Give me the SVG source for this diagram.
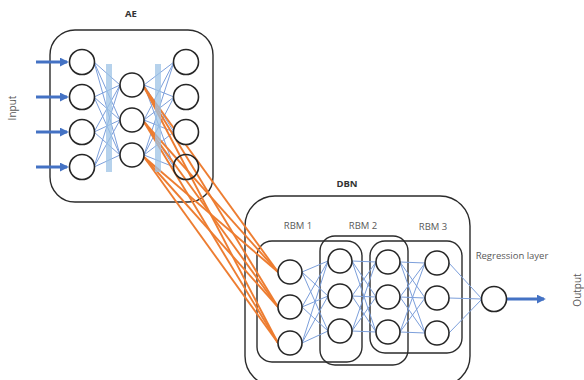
<svg xmlns="http://www.w3.org/2000/svg" width="584" height="380" viewBox="0 0 584 380">
<defs>
<style>
.box{fill:none;stroke:#2b2b2b;stroke-width:1.4}
.n{fill:#fff;stroke:#262626;stroke-width:1.6}
.bl{stroke:#7C9FDB;stroke-width:1;fill:none}
.or{stroke:#ED7D31;stroke-width:1.9;fill:none}
.arr{stroke:#4472C4;stroke-width:3;fill:none}
.bar{fill:#9DC3E6;opacity:0.75}
.t{font-family:"Open Sans","Liberation Sans",sans-serif;font-size:9.5px;fill:#595959;text-anchor:middle}
.h{font-family:"Open Sans","Liberation Sans",sans-serif;font-size:9.5px;font-weight:bold;fill:#333;text-anchor:middle}
</style>
<marker id="ah" viewBox="0 0 10 10" refX="8" refY="5" markerWidth="3" markerHeight="3" orient="auto" markerUnits="strokeWidth">
<path d="M0,0 L10,5 L0,10 z" fill="#4472C4"/>
</marker>
</defs>
<rect width="584" height="380" fill="#fff"/>
<g id="containers">
<rect id="ae-box" class="box" x="50" y="30" width="163" height="172" rx="25"/>
<rect id="dbn-box" class="box" x="245" y="196" width="225" height="190" rx="30"/>
<rect id="rbm1-box" class="box" x="257" y="241" width="105" height="121" rx="15"/>
<rect id="rbm2-box" class="box" x="320" y="236" width="88" height="129" rx="15"/>
<rect id="rbm3-box" class="box" x="370" y="241" width="92" height="112" rx="15"/>
</g>
<g id="connectors">
<g id="ae-lines">
<line class="bl" x1="94" y1="62" x2="120" y2="85"/><line class="bl" x1="94" y1="62" x2="120" y2="120"/><line class="bl" x1="94" y1="62" x2="120" y2="155"/>
<line class="bl" x1="94" y1="97" x2="120" y2="85"/><line class="bl" x1="94" y1="97" x2="120" y2="120"/><line class="bl" x1="94" y1="97" x2="120" y2="155"/>
<line class="bl" x1="94" y1="132" x2="120" y2="85"/><line class="bl" x1="94" y1="132" x2="120" y2="120"/><line class="bl" x1="94" y1="132" x2="120" y2="155"/>
<line class="bl" x1="94" y1="167" x2="120" y2="85"/><line class="bl" x1="94" y1="167" x2="120" y2="120"/><line class="bl" x1="94" y1="167" x2="120" y2="155"/>
<line class="bl" x1="144" y1="85" x2="174" y2="62"/><line class="bl" x1="144" y1="85" x2="174" y2="97"/><line class="bl" x1="144" y1="85" x2="174" y2="132"/><line class="bl" x1="144" y1="85" x2="174" y2="167"/>
<line class="bl" x1="144" y1="120" x2="174" y2="62"/><line class="bl" x1="144" y1="120" x2="174" y2="97"/><line class="bl" x1="144" y1="120" x2="174" y2="132"/><line class="bl" x1="144" y1="120" x2="174" y2="167"/>
<line class="bl" x1="144" y1="155" x2="174" y2="62"/><line class="bl" x1="144" y1="155" x2="174" y2="97"/><line class="bl" x1="144" y1="155" x2="174" y2="132"/><line class="bl" x1="144" y1="155" x2="174" y2="167"/>
</g>
<g id="input-arrows">
<line class="arr" x1="36" y1="62" x2="67" y2="62" marker-end="url(#ah)"/>
<line class="arr" x1="36" y1="97" x2="67" y2="97" marker-end="url(#ah)"/>
<line class="arr" x1="36" y1="132" x2="67" y2="132" marker-end="url(#ah)"/>
<line class="arr" x1="36" y1="167" x2="67" y2="167" marker-end="url(#ah)"/>
</g>
<g id="dbn-lines">
<line class="bl" x1="302" y1="272" x2="328" y2="261"/><line class="bl" x1="302" y1="272" x2="328" y2="296"/><line class="bl" x1="302" y1="272" x2="328" y2="331"/>
<line class="bl" x1="302" y1="307" x2="328" y2="261"/><line class="bl" x1="302" y1="307" x2="328" y2="296"/><line class="bl" x1="302" y1="307" x2="328" y2="331"/>
<line class="bl" x1="302" y1="343" x2="328" y2="261"/><line class="bl" x1="302" y1="343" x2="328" y2="296"/><line class="bl" x1="302" y1="343" x2="328" y2="331"/>
<line class="bl" x1="352" y1="261" x2="376" y2="262"/><line class="bl" x1="352" y1="261" x2="376" y2="297"/><line class="bl" x1="352" y1="261" x2="376" y2="332"/>
<line class="bl" x1="352" y1="296" x2="376" y2="262"/><line class="bl" x1="352" y1="296" x2="376" y2="297"/><line class="bl" x1="352" y1="296" x2="376" y2="332"/>
<line class="bl" x1="352" y1="331" x2="376" y2="262"/><line class="bl" x1="352" y1="331" x2="376" y2="297"/><line class="bl" x1="352" y1="331" x2="376" y2="332"/>
<line class="bl" x1="400" y1="262" x2="425" y2="263"/><line class="bl" x1="400" y1="262" x2="425" y2="298"/><line class="bl" x1="400" y1="262" x2="425" y2="333"/>
<line class="bl" x1="400" y1="297" x2="425" y2="263"/><line class="bl" x1="400" y1="297" x2="425" y2="298"/><line class="bl" x1="400" y1="297" x2="425" y2="333"/>
<line class="bl" x1="400" y1="332" x2="425" y2="263"/><line class="bl" x1="400" y1="332" x2="425" y2="298"/><line class="bl" x1="400" y1="332" x2="425" y2="333"/>
<line class="bl" x1="449" y1="263" x2="482" y2="299"/><line class="bl" x1="449" y1="298" x2="482" y2="299"/><line class="bl" x1="449" y1="333" x2="482" y2="299"/>
</g>
<g id="ae-dbn-lines">
<line class="or" x1="144" y1="87" x2="278" y2="272"/><line class="or" x1="144" y1="87" x2="278" y2="307"/><line class="or" x1="144" y1="87" x2="278" y2="343"/>
<line class="or" x1="144" y1="122" x2="278" y2="272"/><line class="or" x1="144" y1="122" x2="278" y2="307"/><line class="or" x1="144" y1="122" x2="278" y2="343"/>
<line class="or" x1="144" y1="157" x2="278" y2="272"/><line class="or" x1="144" y1="157" x2="278" y2="307"/><line class="or" x1="144" y1="157" x2="278" y2="343"/>
</g>
<line id="output-arrow" class="arr" x1="507" y1="299" x2="544" y2="299" marker-end="url(#ah)"/>
</g>
<g id="bars">
<rect class="bar" x="106" y="64" width="6" height="108"/>
<rect class="bar" x="155" y="64" width="6" height="108"/>
</g>
<g id="ae-input">
<circle class="n" cx="82" cy="62" r="12.5"/><circle class="n" cx="82" cy="97" r="12.5"/><circle class="n" cx="82" cy="132" r="12.5"/><circle class="n" cx="82" cy="167" r="12.5"/>
</g>
<g id="ae-hidden">
<circle class="n" cx="132" cy="85" r="12"/><circle class="n" cx="132" cy="120" r="12"/><circle class="n" cx="132" cy="155" r="12"/>
</g>
<g id="ae-output">
<circle class="n" cx="186" cy="62" r="12.5"/><circle class="n" cx="186" cy="97" r="12.5"/><circle class="n" cx="186" cy="132" r="12.5"/><circle class="n" cx="186" cy="167" r="12.5" style="fill:none"/>
</g>
<g id="dbn-layer1">
<circle class="n" cx="290" cy="272" r="12"/><circle class="n" cx="290" cy="307" r="12"/><circle class="n" cx="290" cy="343" r="12"/>
</g>
<g id="dbn-layer2">
<circle class="n" cx="340" cy="261" r="12"/><circle class="n" cx="340" cy="296" r="12"/><circle class="n" cx="340" cy="331" r="12"/>
</g>
<g id="dbn-layer3">
<circle class="n" cx="388" cy="262" r="12"/><circle class="n" cx="388" cy="297" r="12"/><circle class="n" cx="388" cy="332" r="12"/>
</g>
<g id="dbn-layer4">
<circle class="n" cx="437" cy="263" r="12"/><circle class="n" cx="437" cy="298" r="12"/><circle class="n" cx="437" cy="333" r="12"/>
</g>
<g id="regression">
<circle class="n" cx="494" cy="299" r="12.5"/>
</g>
<g id="labels">
<text class="h" x="131" y="17">AE</text>
<text class="h" x="347" y="187">DBN</text>
<text class="t" x="298" y="229">RBM 1</text>
<text class="t" x="363" y="229">RBM 2</text>
<text class="t" x="433" y="230">RBM 3</text>
<text class="t" x="512" y="259">Regression layer</text>
<text class="t" style="font-size:10px" transform="translate(16,108) rotate(-90)">Input</text>
<text class="t" style="font-size:10px" transform="translate(581,290) rotate(-90)">Output</text>
</g>
</svg>
